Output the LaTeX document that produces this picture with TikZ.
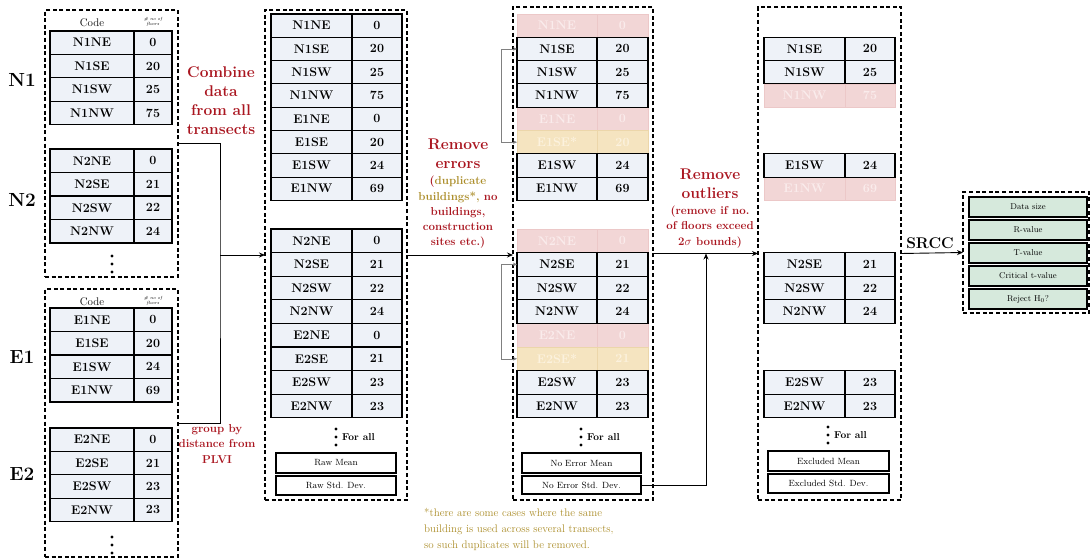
\documentclass[tikz,border=0pt]{standalone}
\usepackage{fontspec}
\usetikzlibrary{arrows.meta}
\definecolor{redtxt}{RGB}{170,22,32}
\definecolor{olivetxt}{RGB}{172,142,42}
\definecolor{rowfill}{RGB}{238,242,248}
\definecolor{pinkfill}{RGB}{242,214,214}
\definecolor{pinktext}{RGB}{250,236,236}
\definecolor{pinkline}{RGB}{236,200,200}
\definecolor{yelfill}{RGB}{245,228,192}
\definecolor{yeltext}{RGB}{252,242,222}
\definecolor{yelline}{RGB}{236,214,170}
\definecolor{greenfill}{RGB}{214,233,220}

\newcommand\mkrow[9]{%
  \node[#9, minimum width=#3, minimum height=#6, anchor=north west] (#1c) at (#2,#5) {#7};
  \node[#9, minimum width=#4, minimum height=#6, anchor=north west] (#1v) at ({#2+#3},#5) {#8};
}

\tikzset{
  cellbase/.style={inner sep=0pt, outer sep=0pt, font=\bfseries\fontsize{12.5}{14}\selectfont},
  okcell/.style={cellbase, draw=black, line width=1.1pt, fill=rowfill},
  pinkcell/.style={cellbase, draw=pinkline, line width=0.4pt, fill=pinkfill, text=pinktext},
  yelcell/.style={cellbase, draw=yelline, line width=0.4pt, fill=yelfill, text=yeltext},
  dbox/.style={draw=black, line width=1.4pt, dash pattern=on 4pt off 2.6pt, inner sep=0pt, outer sep=0pt},
  statbox/.style={draw=black, line width=1.1pt, fill=white, inner sep=0pt, outer sep=0pt, anchor=north west, font=\fontsize{9}{11}\selectfont},
  resbox/.style={draw=black, line width=1.1pt, fill=greenfill, inner sep=0pt, outer sep=0pt, anchor=north west, minimum width=118, minimum height=20, font=\fontsize{8.5}{10}\selectfont},
  grp/.style={font=\bfseries\fontsize{19}{22}\selectfont},
  hdr/.style={font=\fontsize{11}{13}\selectfont},
  tinyhdr/.style={font=\itshape\fontsize{4.5}{5}\selectfont, align=center, inner sep=0pt},
  forall/.style={font=\bfseries\fontsize{10}{12}\selectfont, anchor=west, inner sep=0pt},
  redbig/.style={text=redtxt, font=\bfseries\fontsize{15.5}{19}\selectfont, align=center},
  redsmall/.style={text=redtxt, font=\bfseries\fontsize{11.5}{15.2}\selectfont, align=center},
  conn/.style={draw=black, line width=0.9pt},
  arr/.style={conn, -{Stealth[length=6pt,width=5pt]}},
  brk/.style={draw=gray, line width=0.6pt, {Stealth[length=4pt,width=3.5pt]}-{Stealth[length=4pt,width=3.5pt]}},
}

\begin{document}
\begin{tikzpicture}[x=1pt,y=-1pt]
\useasboundingbox (0,0) rectangle (1091,559);
\fill[white] (0,0) rectangle (1091,559);

% ---------- column 1 ----------
\node[dbox, minimum width=133, minimum height=267] (boxN) at (111.5,143.5) {};
\node[dbox, minimum width=133, minimum height=268] (boxE) at (111.5,423) {};
\node[grp] (lN1) at (22,80) {N1};
\node[grp] (lN2) at (22,200) {N2};
\node[grp] (lE1) at (22,357) {E1};
\node[grp] (lE2) at (22,474) {E2};
\node[hdr] (hcN) at (92,23) {Code};
\node[tinyhdr] (hfN) at (153,22) {\# no of\\floors};
\node[hdr] (hcE) at (92,302) {Code};
\node[tinyhdr] (hfE) at (153,301) {\# no of\\floors};
\foreach \c/\v [count=\i from 0] in {N1NE/0,N1SE/20,N1SW/25,N1NW/75}
  {\mkrow{na\i}{50}{84}{38}{31+\i*23.4}{23.4}{\c}{\v}{okcell}}
\foreach \c/\v [count=\i from 0] in {N2NE/0,N2SE/21,N2SW/22,N2NW/24}
  {\mkrow{nb\i}{50}{84}{38}{149+\i*23.5}{23.5}{\c}{\v}{okcell}}
\foreach \c/\v [count=\i from 0] in {E1NE/0,E1SE/20,E1SW/24,E1NW/69}
  {\mkrow{ea\i}{50}{84}{38}{308+\i*23.5}{23.5}{\c}{\v}{okcell}}
\foreach \c/\v [count=\i from 0] in {E2NE/0,E2SE/21,E2SW/23,E2NW/23}
  {\mkrow{eb\i}{50}{84}{38}{428+\i*23.4}{23.4}{\c}{\v}{okcell}}
\foreach \d in {256,264,272} \fill (112,\d) circle (1.7);
\foreach \d in {537,545,553} \fill (112,\d) circle (1.7);

\node[redbig] (combine) at (221,101) {Combine\\data\\from all\\transects};
\node[redsmall] (group) at (217,444) {group by\\distance from\\PLVI};

% ---------- column 2 ----------
\node[dbox, minimum width=142, minimum height=490] (box2) at (336,255) {};
\foreach \c/\v [count=\i from 0] in {N1NE/0,N1SE/20,N1SW/25,N1NW/75,E1NE/0,E1SE/20,E1SW/24,E1NW/69}
  {\mkrow{ba\i}{271}{81}{50}{14+\i*23.3}{23.3}{\c}{\v}{okcell}}
\foreach \c/\v [count=\i from 0] in {N2NE/0,N2SE/21,N2SW/22,N2NW/24,E2NE/0,E2SE/21,E2SW/23,E2NW/23}
  {\mkrow{bb\i}{271}{81}{50}{229+\i*23.6}{23.6}{\c}{\v}{okcell}}
\foreach \d in {429,437,445} \fill (336,\d) circle (1.6);
\node[forall] (fa2) at (342,437) {For all};
\node[statbox, minimum width=120, minimum height=20] (rawm) at (276,453) {Raw Mean};
\node[statbox, minimum width=120, minimum height=19] (raws) at (276,476) {Raw Std. Dev.};

\node[redbig] (rerr) at (458,154) {Remove\\errors};
\node[redsmall] (rerrsub) at (458,212.5) {(\textcolor{olivetxt}{duplicate}\\\textcolor{olivetxt}{buildings*,} no\\buildings,\\construction\\sites etc.)};

% ---------- column 3 ----------
\node[dbox, minimum width=140, minimum height=493] (box3) at (583,253.5) {};
% faded rows first
\mkrow{ca0}{517}{80}{51}{14}{23.3}{N1NE}{0}{pinkcell}
\mkrow{ca4}{517}{80}{51}{14+4*23.3}{23.3}{E1NE}{0}{pinkcell}
\mkrow{ca5}{517}{80}{51}{14+5*23.3}{23.3}{E1SE*}{20}{yelcell}
\mkrow{cb0}{517}{80}{51}{229}{23.6}{N2NE}{0}{pinkcell}
\mkrow{cb4}{517}{80}{51}{229+4*23.6}{23.6}{E2NE}{0}{pinkcell}
\mkrow{cb5}{517}{80}{51}{229+5*23.6}{23.6}{E2SE*}{21}{yelcell}
% kept rows
\mkrow{ca1}{517}{80}{51}{14+1*23.3}{23.3}{N1SE}{20}{okcell}
\mkrow{ca2}{517}{80}{51}{14+2*23.3}{23.3}{N1SW}{25}{okcell}
\mkrow{ca3}{517}{80}{51}{14+3*23.3}{23.3}{N1NW}{75}{okcell}
\mkrow{ca6}{517}{80}{51}{14+6*23.3}{23.3}{E1SW}{24}{okcell}
\mkrow{ca7}{517}{80}{51}{14+7*23.3}{23.3}{E1NW}{69}{okcell}
\mkrow{cb1}{517}{80}{51}{229+1*23.6}{23.6}{N2SE}{21}{okcell}
\mkrow{cb2}{517}{80}{51}{229+2*23.6}{23.6}{N2SW}{22}{okcell}
\mkrow{cb3}{517}{80}{51}{229+3*23.6}{23.6}{N2NW}{24}{okcell}
\mkrow{cb6}{517}{80}{51}{229+6*23.6}{23.6}{E2SW}{23}{okcell}
\mkrow{cb7}{517}{80}{51}{229+7*23.6}{23.6}{E2NW}{23}{okcell}
\foreach \d in {429,437,445} \fill (581,\d) circle (1.6);
\node[forall] (fa3) at (587,437) {For all};
\node[statbox, minimum width=119, minimum height=20] (nem) at (522,453) {No Error Mean};
\node[statbox, minimum width=119, minimum height=18] (nes) at (522,476) {No Error Std. Dev.};

\node[redbig] (rout) at (710,184) {Remove\\outliers};
\node[redsmall] (routsub) at (710,227) {(remove if no.\\of floors exceed\\2$\sigma$ bounds)};

% ---------- column 4 ----------
\node[dbox, minimum width=143, minimum height=493] (box4) at (829.5,253.5) {};
\mkrow{da3}{764}{81}{50}{14+3*23.3}{23.3}{N1NW}{75}{pinkcell}
\mkrow{da7}{764}{81}{50}{14+7*23.3}{23.3}{E1NW}{69}{pinkcell}
\mkrow{da1}{764}{81}{50}{14+1*23.3}{23.3}{N1SE}{20}{okcell}
\mkrow{da2}{764}{81}{50}{14+2*23.3}{23.3}{N1SW}{25}{okcell}
\mkrow{da6}{764}{81}{50}{14+6*23.3}{23.3}{E1SW}{24}{okcell}
\mkrow{db1}{764}{81}{50}{229+1*23.6}{23.6}{N2SE}{21}{okcell}
\mkrow{db2}{764}{81}{50}{229+2*23.6}{23.6}{N2SW}{22}{okcell}
\mkrow{db3}{764}{81}{50}{229+3*23.6}{23.6}{N2NW}{24}{okcell}
\mkrow{db6}{764}{81}{50}{229+6*23.6}{23.6}{E2SW}{23}{okcell}
\mkrow{db7}{764}{81}{50}{229+7*23.6}{23.6}{E2NW}{23}{okcell}
\foreach \d in {427,435,443} \fill (828,\d) circle (1.6);
\node[forall] (fa4) at (834,435) {For all};
\node[statbox, minimum width=121, minimum height=20] (exm) at (768,451) {Excluded Mean};
\node[statbox, minimum width=121, minimum height=19] (exs) at (768,474) {Excluded Std. Dev.};

% ---------- SRCC ----------
\node[font=\bfseries\fontsize{15.5}{18}\selectfont] (srcc) at (930,243) {SRCC};
\node[dbox, minimum width=126, minimum height=121] (boxS) at (1026,252.5) {};
\node[resbox] (r1) at (969,197) {Data size};
\node[resbox] (r2) at (969,220) {R-value};
\node[resbox] (r3) at (969,243) {T-value};
\node[resbox] (r4) at (969,266) {Critical t-value};
\node[resbox] (r5) at (969,289) {Reject H$_0$?};

% ---------- footnote ----------
\node[anchor=north west, text=olivetxt, align=left, inner sep=0pt, font=\fontsize{11}{16}\selectfont] (foot) at (424,508)
  {*there are some cases where the same\\building is used across several transects,\\so such duplicates will be removed.};

% ---------- connectors ----------
\coordinate (jm) at (220,255);
\draw[conn] (boxN.east) -| (jm) |- (boxE.east);
\draw[arr] (jm) -- (box2.west);
\draw[arr] (box2.east) -- (box2.east -| box3.west);
\draw[arr] (box3.east) -- (box4.west);
\draw[arr] (box4.east) -- (boxS.west);
\coordinate (mj) at (706,253.5);
\draw[arr] (nes.east) -| (mj);
\draw[brk] (ca1c.west) -- ++(-16,0) |- (ca5c.west);
\draw[brk] (cb1c.west) -- ++(-16,0) |- (cb5c.west);
\end{tikzpicture}
\end{document}
